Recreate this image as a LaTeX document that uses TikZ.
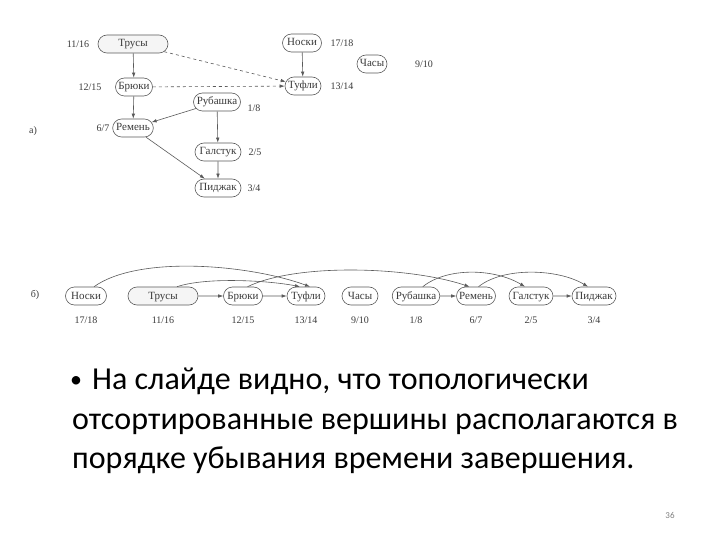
\documentclass[tikz,border=0pt]{standalone}
\usepackage{fontspec}
\setmainfont{Liberation Serif}
\newfontfamily\slidefont{Carlito}
\usetikzlibrary{shapes.misc,arrows.meta,calc}
\definecolor{lineg}{HTML}{5A5A5A}
\definecolor{txtg}{HTML}{3A3A3A}
\begin{document}
\begin{tikzpicture}[x=1pt,y=-1pt,
 vtx/.style={rounded rectangle, draw=lineg, line width=0.6pt, text=txtg,
   font=\fontsize{11}{12}\selectfont, minimum height=18pt, inner xsep=2pt, inner ysep=0pt,
   text height=8pt, text depth=2pt},
 lbl/.style={text=txtg, font=\fontsize{10}{12}\selectfont, inner sep=0pt},
 arr/.style={draw=lineg, line width=0.6pt, -{Latex[length=5pt,width=3.5pt]}},
 slide/.style={anchor=base west, text=black, inner sep=0pt, font=\slidefont\fontsize{32}{38}\selectfont}
]
\path[use as bounding box, fill=white] (0,0) rectangle (720,540);

% ---- (a) graph ----
\node[lbl] (la) at (33,131) {а)};
\node[vtx, minimum width=74pt, fill=black!4] (tr) at (133,44) {Трусы};
\node[vtx, minimum width=43pt] (nk) at (302,43) {Носки};
\node[vtx, minimum width=34pt] (ch) at (372,64) {Часы};
\node[vtx, minimum width=40pt] (tf) at (303,86) {Туфли};
\node[vtx, minimum width=41pt] (br) at (134,87) {Брюки};
\node[vtx, minimum width=51pt] (rb) at (217,102) {Рубашка};
\node[vtx, minimum width=39pt] (rm) at (133,128) {Ремень};
\node[vtx, minimum width=50pt] (gl) at (218,152) {Галстук};
\node[vtx, minimum width=50pt] (pd) at (218,188) {Пиджак};

\node[lbl] (ltr) at (78,44) {11/16};
\node[lbl] (lnk) at (342,43) {17/18};
\node[lbl] (lch) at (424,64) {9/10};
\node[lbl] (ltf) at (342,86) {13/14};
\node[lbl] (lbr) at (90,87) {12/15};
\node[lbl] (lrb) at (254,108) {1/8};
\node[lbl] (lrm) at (103,128) {6/7};
\node[lbl] (lgl) at (255,152) {2/5};
\node[lbl] (lpd) at (254,188) {3/4};

\draw[arr] (tr) -- (br);
\draw[arr] (br) -- (rm);
\draw[arr] (nk) -- (tf);
\draw[arr, dashed] (tr) -- (tf);
\draw[arr, dashed] (br) -- (tf);
\draw[arr] (rb) -- (rm);
\draw[arr] (rb) -- (gl);
\draw[arr] (gl) -- (pd);
\draw[arr] (rm) -- (pd);

% ---- (b) sorted order ----
\node[lbl] (lb) at (35,295) {б)};
\node[vtx, minimum width=45pt] (nk2) at (86,296) {Носки};
\node[vtx, minimum width=74pt, fill=black!4] (tr2) at (163,296) {Трусы};
\node[vtx, minimum width=43pt] (br2) at (243,296) {Брюки};
\node[vtx, minimum width=42pt] (tf2) at (306,296) {Туфли};
\node[vtx, minimum width=40pt] (ch2) at (360,296) {Часы};
\node[vtx, minimum width=47pt] (rb2) at (416,296) {Рубашка};
\node[vtx, minimum width=43pt] (rm2) at (476,296) {Ремень};
\node[vtx, minimum width=43pt] (gl2) at (531,296) {Галстук};
\node[vtx, minimum width=48pt] (pd2) at (594,296) {Пиджак};

\node[lbl] (lnk2) at (86,320) {17/18};
\node[lbl] (ltr2) at (163,320) {11/16};
\node[lbl] (lbr2) at (243,320) {12/15};
\node[lbl] (ltf2) at (306,320) {13/14};
\node[lbl] (lch2) at (360,320) {9/10};
\node[lbl] (lrb2) at (416,320) {1/8};
\node[lbl] (lrm2) at (476,320) {6/7};
\node[lbl] (lgl2) at (531,320) {2/5};
\node[lbl] (lpd2) at (594,320) {3/4};

\draw[arr] (tr2) -- (br2);
\draw[arr] (br2) -- (tf2);
\draw[arr] (rb2) -- (rm2);
\draw[arr] (gl2) -- (pd2);

\draw[arr] ($(nk2.north)+(8,0)$) .. controls +(45,-32) and +(-60,-22) .. ($(tf2.north)+(4,0)$);
\draw[arr] ($(tr2.north east)+(-12,0)$) .. controls +(30,-10) and +(-30,-6) .. ($(tf2.north)+(-6,0)$);
\draw[arr] ($(br2.north east)+(-6,0)$) .. controls +(50,-24) and +(-60,-20) .. ($(rm2.north west)+(4,0)$);
\draw[arr] ($(rb2.north east)+(-8,0)$) .. controls +(25,-20) and +(-30,-18) .. ($(gl2.north)+(-6,0)$);
\draw[arr] ($(rm2.north east)+(-8,0)$) .. controls +(25,-20) and +(-30,-18) .. ($(pd2.north)+(-6,0)$);

% ---- slide text ----
\node[anchor=base, inner sep=0pt, font=\slidefont\fontsize{24}{28}\selectfont] (bul) at (76,387) {•};
\node[slide] (l1) at (92,389) {На слайде видно, что топологически};
\node[slide] (l2) at (72,429) {отсортированные вершины располагаются в};
\node[slide] (l3) at (72,468) {порядке убывания времени завершения.};
\node[font=\slidefont\fontsize{9}{10}\selectfont, text=gray, inner sep=0pt] (pg) at (670,515) {36};
\end{tikzpicture}
\end{document}
